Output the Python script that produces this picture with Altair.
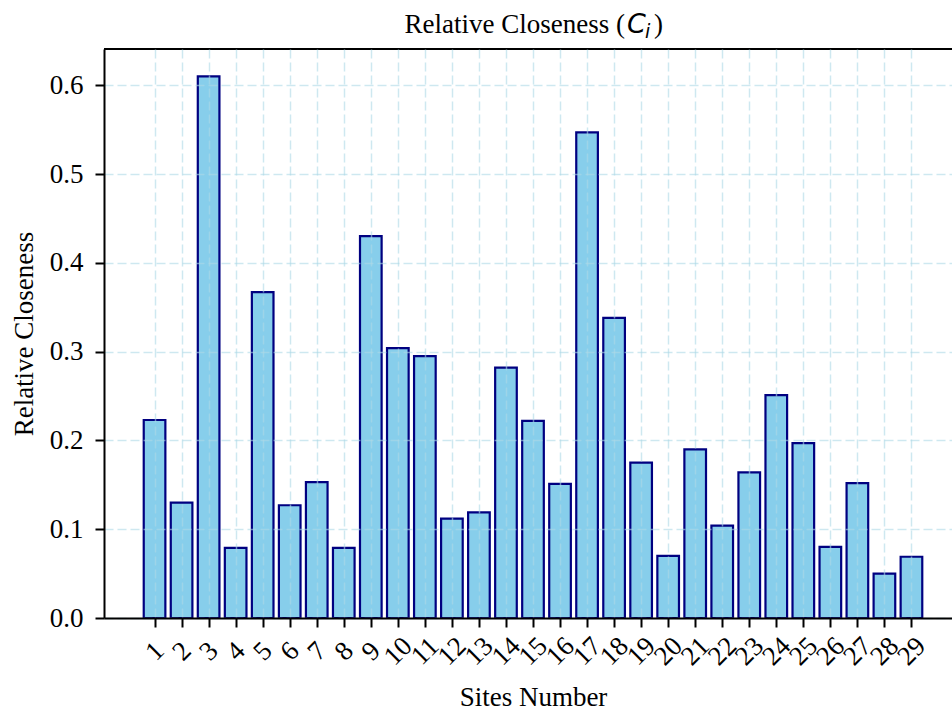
import altair as alt
import pandas as pd

# ---- data ----
sites = list(range(1, 30))
closeness = [0.223, 0.130, 0.610, 0.079, 0.367, 0.127, 0.153, 0.079, 0.430, 0.304,
             0.295, 0.112, 0.119, 0.282, 0.222, 0.151, 0.547, 0.338, 0.175, 0.070,
             0.190, 0.104, 0.164, 0.251, 0.197, 0.080, 0.152, 0.050, 0.069]
y_ticks = [0.0, 0.1, 0.2, 0.3, 0.4, 0.5, 0.6]
title_parts = ["Relative Closeness (", "C", "i", ")"]
x_title = "Sites Number"
y_title = "Relative Closeness"

df = pd.DataFrame({"site": sites, "value": closeness})

W, H = 848, 569
SERIF = "Liberation Serif"
FS = 27

x_scale = alt.Scale(domain=[-0.87, 30.5], nice=False, zero=False)
y_scale = alt.Scale(domain=[0, 0.6408], nice=False, zero=True)

bars = (
    alt.Chart(df)
    .transform_calculate(lo="datum.site - 0.4", hi="datum.site + 0.4")
    .mark_bar(fill="#87CEEB", stroke="#000080", strokeWidth=2.2, cornerRadius=0)
    .encode(
        x=alt.X(
            "lo:Q",
            scale=x_scale,
            axis=alt.Axis(
                values=sites,
                format="d",
                title=x_title,
                labelAngle=315,
                labelAlign="center",
                labelBaseline="middle",
                labelPadding=24,
                labelOverlap=False,
                labelFlush=False,
                labelBound=False,
                titleX=429,
                titleY=87,
                titleAlign="center",
                titleBaseline="alphabetic",
                zindex=1,
            ),
        ),
        x2="hi:Q",
        y=alt.Y(
            "value:Q",
            scale=y_scale,
            axis=alt.Axis(
                values=y_ticks,
                format=".1f",
                title=y_title,
                labelPadding=12,
                titlePadding=11,
                labelBaseline="middle",
                zindex=1,
            ),
        ),
        y2=alt.datum(0),
    )
)

top_spine = (
    alt.Chart(pd.DataFrame({"k": [0]}))
    .mark_rule(color="black", strokeWidth=2)
    .encode(x=alt.value(0), x2=alt.value(W), y=alt.value(0))
)

def title_piece(text, x, y, font, size, align="left", style="normal"):
    return (
        alt.Chart(pd.DataFrame({"t": [text]}))
        .mark_text(font=font, fontSize=size, align=align, baseline="alphabetic",
                   color="black", fontStyle=style)
        .encode(text="t:N", x=alt.value(x), y=alt.value(y))
    )

t1 = title_piece(title_parts[0], 521, -16, SERIF, FS, align="right")
t2 = title_piece(title_parts[1], 523, -16, "DejaVu Sans", FS, style="italic")
t3 = title_piece(title_parts[2], 541, -11, "DejaVu Sans", 19, style="italic")
t4 = title_piece(title_parts[3], 550, -16, SERIF, FS)

chart = (
    alt.layer(bars, top_spine, t1, t2, t3, t4)
    .properties(
        width=W,
        height=H,
        padding={"left": 104, "top": 49, "right": 0, "bottom": 94},
        autosize=alt.AutoSizeParams(type="none"),
        background="white",
    )
    .configure_view(stroke=None)
    .configure_axis(
        domainColor="black",
        domainWidth=2,
        tickColor="black",
        tickWidth=2,
        tickSize=9,
        labelFont=SERIF,
        labelFontSize=FS,
        labelColor="black",
        titleFont=SERIF,
        titleFontSize=FS,
        titleFontWeight="normal",
        titleColor="black",
        gridColor="#add8e6",
        gridOpacity=0.6,
        gridDash=[9, 4],
        gridWidth=1.5,
    )
)

chart.save("out.html", embed_options={"renderer": "svg", "actions": False})
